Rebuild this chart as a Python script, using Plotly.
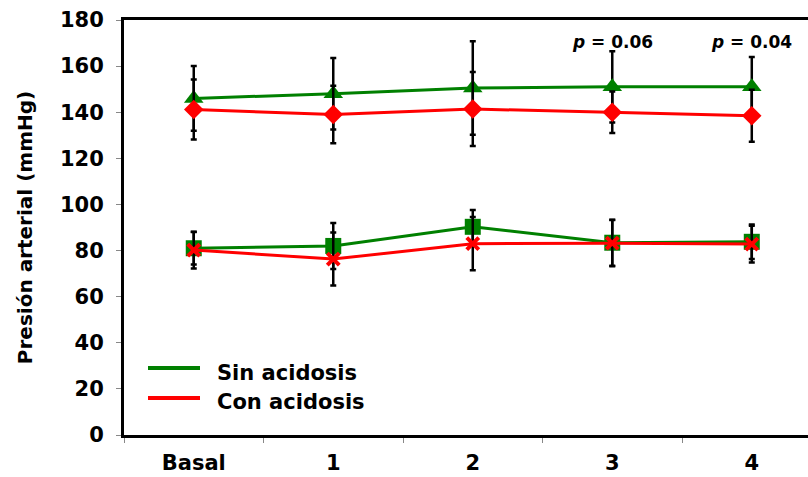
import plotly.graph_objects as go

categories = ["Basal", "1", "2", "3", "4"]

# Upper set
sin_high = [146, 148, 150.5, 151, 151]
sin_high_err = [14, 15.5, 20.3, 15.5, 13]
con_high = [141.2, 139, 141.4, 140, 138.5]
con_high_err = [13, 12.5, 16, 9, 11.3]

# Lower set
sin_low = [81, 82, 90.3, 83.4, 83.8]
sin_low_err = [7, 10, 7.3, 10, 7.5]
con_low = [80.2, 76.3, 83, 83.2, 82.8]
con_low_err = [8, 11.5, 11.5, 10, 8]

p_labels = ["", "", "", "0.06", "0.04"]
legend_names = ["Sin acidosis", "Con acidosis"]

GREEN = "#008000"
RED = "#ff0000"
FONT = "DejaVu Sans, sans-serif"

fig = go.Figure()

def add(y, err, color, symbol, size, mline=None):
    fig.add_trace(go.Scatter(
        x=categories, y=y, mode="lines+markers",
        line=dict(color=color, width=3),
        marker=dict(color=color, symbol=symbol, size=size,
                    line=mline or dict(width=0)),
        error_y=dict(type="data", array=err, visible=True, color="black",
                     thickness=2.5, width=3),
        showlegend=False, hoverinfo="skip"))

add(sin_low, sin_low_err, GREEN, "square", 16)
add(con_low, con_low_err, RED, "x-thin-open", 12, dict(color=RED, width=4))
add(sin_high, sin_high_err, GREEN, "triangle-up", 17)
add(con_high, con_high_err, RED, "diamond", 15)

for cat, lab in zip(categories, p_labels):
    if lab:
        fig.add_annotation(x=cat, y=170.5, text="<b><i>p</i> = " + lab + "</b>",
                           showarrow=False,
                           font=dict(family=FONT, size=17, color="black"))

# manual legend (paper coords)
W = 808 - 124
H = 477 - 20 - 42
for i, (name, col) in enumerate(zip(legend_names, [GREEN, RED])):
    yl = (435 - (368 + 30 * i)) / H
    yt = (435 - (373 + 29 * i)) / H
    fig.add_shape(type="line", xref="paper", yref="paper",
                  x0=(148 - 124) / W, x1=(200 - 124) / W, y0=yl, y1=yl,
                  line=dict(color=col, width=4))
    fig.add_annotation(xref="paper", yref="paper", x=(215 - 124) / W, y=yt,
                       xanchor="left", yanchor="middle", showarrow=False,
                       text="<b>" + name + "</b>",
                       font=dict(family=FONT, size=21, color="black"))

fig.update_layout(
    width=808, height=477,
    margin=dict(l=124, r=0, t=20, b=42),
    plot_bgcolor="white", paper_bgcolor="white",
    font=dict(family=FONT, color="black"),
    showlegend=False,
    xaxis=dict(
        range=[-0.5, 4.403], showgrid=False, zeroline=False, automargin=False,
        showline=True, linecolor="black", linewidth=3, mirror=True,
        ticks="outside", tickson="boundaries", ticklen=5, tickcolor="#888",
        ticklabelstandoff=7,
        tickfont=dict(family=FONT, size=21, weight="bold"),
    ),
    yaxis=dict(
        range=[0, 180], dtick=20, showgrid=False, zeroline=False, automargin=False,
        showline=True, linecolor="black", linewidth=3,
        ticks="outside", ticklen=5, tickcolor="#888",
        ticklabelstandoff=8,
        tickfont=dict(family=FONT, size=21, weight="bold"),
        title=dict(text="Presión arterial (mmHg)", standoff=22,
                   font=dict(family=FONT, size=20, weight="bold")),
    ),
)

fig.write_html("out.html", config={"displayModeBar": False},
               post_script="document.body.style.margin='0';")
